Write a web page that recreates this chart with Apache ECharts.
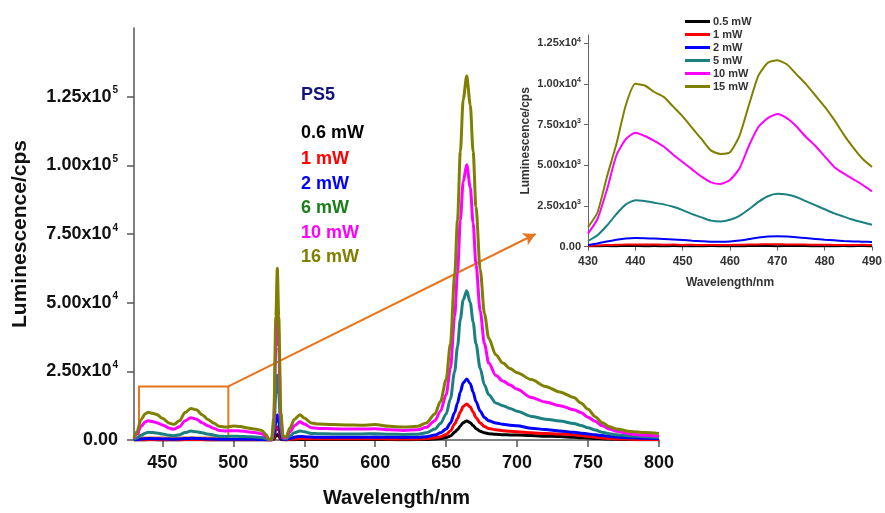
<!DOCTYPE html>
<html>
<head>
<meta charset="utf-8">
<script src="https://cdn.jsdelivr.net/npm/echarts@6/dist/echarts.min.js"></script>
<style>
  html, body { margin: 0; padding: 0; background: #fff; }
  #chart { width: 885px; height: 513px; }
</style>
</head>
<body>
<div id="chart"></div>
<script>
// ---- Full spectra (PS5), wavelength in nm, luminescence in cps ----
const wavelengths = [
  430, 432, 435, 438, 440, 443, 446, 450, 455, 458,
  462, 466, 470, 474, 478, 482, 486, 490, 495, 500,
  505, 510, 515, 520, 523, 525, 527, 528.5, 530, 531,
  532, 533.5, 535, 537, 540, 543, 547, 550, 555, 560,
  570, 580, 590, 600, 610, 620, 630, 636, 642, 646,
  650, 653, 656, 658, 660, 662, 664.5, 667, 669, 671,
  674, 677, 680, 685, 690, 695, 700, 710, 720, 730,
  740, 745, 750, 755, 760, 765, 770, 780, 790, 800
];
const lum16mW = [
  800, 3000, 7500, 9600, 10100, 9700, 9300, 7900, 6100, 5700,
  7000, 10000, 11500, 11000, 9200, 7500, 6200, 5000, 4700, 5100,
  4900, 4400, 4000, 3500, 2000, 300, 200, 8000, 45000, 62500,
  45000, 10000, 1500, 1000, 4500, 7500, 9200, 8000, 6200, 5800,
  5600, 5500, 5400, 5600, 5000, 4700, 5000, 6200, 9500, 14000,
  22000, 35000, 60000, 80000, 105000, 124000, 132500, 122000, 105000, 85000,
  62000, 46000, 37000, 31000, 28000, 26000, 24500, 22000, 19500, 17500,
  15500, 13500, 11200, 8500, 6300, 4800, 4000, 3100, 2700, 2400
];
const lum10mW = [
  600, 2200, 5000, 6600, 7000, 6700, 6300, 5500, 4300, 3900,
  4800, 7000, 8100, 7600, 6300, 5200, 4300, 3500, 3300, 3400,
  3300, 3000, 2700, 2300, 1300, 200, 150, 6000, 34000, 47000,
  34000, 7500, 1000, 700, 3000, 5200, 6600, 5800, 4500, 4200,
  4100, 4000, 4000, 4100, 3700, 3500, 3700, 4600, 7000, 10500,
  16500, 26000, 45000, 61000, 80000, 94000, 100200, 92000, 79000, 64000,
  47000, 35000, 28000, 23500, 21500, 20000, 18500, 15500, 13800, 12500,
  11000, 10000, 8300, 6800, 5200, 4000, 3200, 2200, 1700, 1400
];
const lum6mW = [
  200, 700, 1700, 2500, 2800, 2750, 2550, 2200, 1700, 1550,
  1900, 2700, 3250, 3000, 2600, 2150, 1800, 1400, 1300, 1350,
  1300, 1200, 1100, 900, 500, 100, 100, 3000, 17000, 23600,
  17000, 3800, 600, 400, 1500, 2600, 3300, 3000, 2400, 2300,
  2200, 2200, 2200, 2300, 2100, 2000, 2100, 2600, 4000, 6000,
  9500, 15000, 25000, 34000, 44000, 51000, 54300, 50000, 43000, 35000,
  26000, 20000, 16500, 13500, 12500, 11500, 10500, 8600, 7600, 6900,
  6000, 5300, 4500, 3600, 2800, 2300, 1900, 1500, 1200, 950
];
const lum2mW = [
  80, 200, 350, 480, 520, 500, 460, 400, 330, 300,
  360, 520, 630, 580, 480, 400, 340, 280, 270, 280,
  270, 250, 230, 200, 120, 50, 50, 1200, 6500, 9100,
  6500, 1500, 300, 200, 600, 1000, 1300, 1200, 1050, 1000,
  1000, 1000, 1000, 1050, 1000, 950, 1000, 1200, 1800, 2600,
  4000, 6200, 10000, 13500, 17500, 20800, 22200, 20500, 17500, 14000,
  10500, 8200, 7000, 6200, 5700, 5400, 5200, 4300, 3800, 3300,
  2800, 2500, 2200, 1900, 1600, 1300, 1100, 800, 650, 550
];
const lum1mW = [
  40, 80, 110, 130, 140, 140, 135, 130, 120, 115,
  125, 145, 160, 150, 140, 130, 120, 110, 110, 110,
  105, 100, 90, 80, 50, 20, 20, 600, 3400, 4800,
  3400, 800, 150, 100, 250, 400, 550, 500, 450, 420,
  420, 420, 420, 420, 400, 380, 400, 500, 800, 1200,
  2000, 3300, 5800, 7800, 10200, 12200, 13100, 12000, 10200, 8200,
  6200, 4900, 4200, 3700, 3400, 3200, 3000, 2600, 2400, 2200,
  1900, 1600, 1300, 1000, 750, 550, 400, 250, 200, 200
];
const lum06mW = [
  20, 30, 40, 45, 50, 50, 45, 45, 40, 40,
  45, 50, 55, 50, 50, 45, 40, 40, 40, 40,
  40, 35, 35, 30, 20, 10, 10, 250, 1400, 2000,
  1400, 300, 60, 40, 80, 120, 160, 150, 140, 140,
  140, 140, 140, 150, 140, 130, 140, 200, 350, 550,
  900, 1500, 2800, 3800, 5100, 6300, 6950, 6300, 5300, 4200,
  3200, 2600, 2300, 2100, 1950, 1850, 1800, 1600, 1400, 1250,
  1000, 850, 700, 550, 450, 350, 250, 150, 120, 100
];
const mainLabels = ['0.6 mW', '1 mW', '2 mW', '6 mW', '10 mW', '16 mW'];
const mainXTicks = [450, 500, 550, 600, 650, 700, 750, 800];
const mainYTicks = [0, 25000, 50000, 75000, 100000, 125000];

// ---- Zoomed 430–490 nm region ----
const insetWavelengths = [
  430, 432, 434, 436, 438, 440, 442, 444, 446, 448,
  450, 452, 454, 456, 458, 460, 462, 464, 466, 468,
  470, 472, 474, 476, 478, 480, 482, 484, 486, 488, 490
];
const inset15mW = [
  1200, 2100, 4300, 6300, 8700, 10000, 9900, 9500, 9200, 8600,
  8000, 7300, 6600, 5900, 5700, 5800, 6800, 8700, 10500, 11300,
  11450, 11200, 10600, 10000, 9300, 8600, 7800, 6900, 6100, 5400, 4900
];
const inset10mW = [
  800, 1700, 3500, 5600, 6600, 7000, 6800, 6500, 6150, 5650,
  5200, 4750, 4300, 3950, 3850, 4100, 4800, 6200, 7350, 7900,
  8150, 7900, 7400, 6750, 6200, 5550, 4900, 4500, 4150, 3800, 3400
];
const inset5mW = [
  350, 700, 1300, 2000, 2600, 2850, 2800, 2700, 2600, 2450,
  2250, 2000, 1800, 1600, 1550, 1650, 1900, 2300, 2750, 3100,
  3250, 3200, 3050, 2800, 2550, 2300, 2050, 1850, 1650, 1500, 1350
];
const inset2mW = [
  100, 200, 320, 430, 510, 530, 520, 500, 470, 440,
  410, 370, 340, 310, 300, 320, 380, 470, 560, 620,
  640, 620, 580, 530, 480, 430, 390, 350, 320, 310, 290
];
const inset1mW = [
  40, 70, 100, 120, 130, 140, 130, 140, 120, 130,
  110, 120, 100, 110, 100, 110, 120, 130, 140, 150,
  150, 140, 140, 130, 120, 120, 110, 110, 100, 120, 100
];
const inset05mW = [
  20, 30, 40, 30, 50, 40, 30, 40, 30, 40,
  30, 20, 30, 40, 30, 20, 30, 40, 50, 40,
  30, 40, 50, 40, 30, 20, 30, 40, 30, 50, 30
];
const insetLabels = ['0.5 mW', '1 mW', '2 mW', '5 mW', '10 mW', '15 mW'];
const insetYTicks = [0, 2500, 5000, 7500, 10000, 12500];

// ---- styling ----
const FONT = '"Liberation Sans", Arial, sans-serif';
const colors = ['#000000', '#ff0000', '#0000ff', '#1a8080', '#ff00ff', '#808000'];
const labelColors = ['#000000', '#ff0000', '#0000ff', '#1a7f1a', '#ff00ff', '#808000'];
const ORANGE = '#e8751e';

const pair = (xs, ys) => xs.map((x, i) => [x, ys[i]]);
const mainSets = [lum06mW, lum1mW, lum2mW, lum6mW, lum10mW, lum16mW];
const insetSets = [inset05mW, inset1mW, inset2mW, inset5mW, inset10mW, inset15mW];

function sciFormatter(bigExp) {
  return function (v) {
    if (v === 0) return '{m|0.00}';
    const big = Math.pow(10, bigExp);
    const e = v >= big ? bigExp : bigExp - 1;
    return '{m|' + (v / Math.pow(10, e)).toFixed(2) + 'x10}{e|' + e + '}';
  };
}

const chart = echarts.init(document.getElementById('chart'), null, { renderer: 'canvas' });

const series = [];
mainSets.forEach((d, i) => {
  series.push({
    name: 'PS5 ' + mainLabels[i],
    type: 'line',
    xAxisIndex: 0, yAxisIndex: 0,
    data: pair(wavelengths, d),
    showSymbol: false,
    smooth: 0.3,
    smoothMonotone: 'x',
    lineStyle: { color: colors[i], width: 3 },
    itemStyle: { color: colors[i] },
    z: 3 + i,
    silent: true
  });
});
insetSets.forEach((d, i) => {
  series.push({
    name: insetLabels[i],
    type: 'line',
    xAxisIndex: 1, yAxisIndex: 1,
    data: pair(insetWavelengths, d),
    showSymbol: false,
    smooth: 0.2,
    lineStyle: { color: colors[i], width: 2 },
    itemStyle: { color: colors[i] },
    z: 3 + i,
    silent: true
  });
});
// zoom box over 430-490 nm and the pointer towards the enlarged view
series.push({
  name: 'zoom-box',
  type: 'line',
  xAxisIndex: 0, yAxisIndex: 0,
  data: [],
  z: 2,
  silent: true,
  markArea: {
    silent: true,
    itemStyle: { color: 'rgba(0,0,0,0)', borderColor: ORANGE, borderWidth: 2 },
    label: { show: false },
    data: [[{ coord: [433.5, 19500] }, { coord: [496.5, 900] }]]
  },
  markLine: {
    silent: true,
    symbol: ['none', 'arrow'],
    symbolSize: [10, 12],
    lineStyle: { color: ORANGE, width: 2, type: 'solid' },
    label: { show: false },
    data: [[{ coord: [496.5, 19500] }, { coord: [713, 75000] }]]
  }
});

const option = {
  animation: false,
  backgroundColor: '#ffffff',
  textStyle: { fontFamily: FONT },
  grid: [
    { left: 134, width: 525, top: 28, height: 415.2 },
    { left: 588, width: 289, top: 35, height: 211.7 }
  ],
  xAxis: [
    {
      type: 'value', gridIndex: 0, min: 430, max: 800,
      name: 'Wavelength/nm', nameLocation: 'middle', nameGap: 48,
      nameTextStyle: { fontSize: 20, fontWeight: 'bold', color: '#111', fontFamily: FONT },
      axisLine: { onZero: false, lineStyle: { color: '#555', width: 1.5 } },
      axisTick: { show: true, length: 7, customValues: mainXTicks, lineStyle: { color: '#555', width: 1.5 } },
      axisLabel: { customValues: mainXTicks, margin: 14, fontSize: 18, fontWeight: 'bold', color: '#111', fontFamily: FONT },
      splitLine: { show: false }
    },
    {
      type: 'value', gridIndex: 1, min: 430, max: 490, interval: 10,
      name: 'Wavelength/nm', nameLocation: 'middle', nameGap: 30,
      nameTextStyle: { fontSize: 12, fontWeight: 'bold', color: '#333', fontFamily: FONT },
      axisLine: { onZero: false, lineStyle: { color: '#666', width: 1 } },
      axisTick: { show: true, length: 4, lineStyle: { color: '#666' } },
      axisLabel: { margin: 9, fontSize: 12, fontWeight: 'bold', color: '#333', fontFamily: FONT },
      splitLine: { show: false }
    }
  ],
  yAxis: [
    {
      type: 'value', gridIndex: 0, min: 0, max: 150000, interval: 25000,
      name: 'Luminescence/cps', nameLocation: 'middle', nameGap: 103,
      nameTextStyle: { fontSize: 21, fontWeight: 'bold', color: '#111', fontFamily: FONT },
      axisLine: { show: true, lineStyle: { color: '#555', width: 1.5 } },
      axisTick: { show: true, length: 7, customValues: mainYTicks, lineStyle: { color: '#555', width: 1.5 } },
      axisLabel: {
        margin: 16,
        customValues: mainYTicks,
        formatter: sciFormatter(5),
        rich: {
          m: { fontSize: 18, fontWeight: 'bold', color: '#111', fontFamily: FONT },
          e: { fontSize: 10, fontWeight: 'bold', color: '#111', fontFamily: FONT, padding: [0, 0, 12, 1] }
        }
      },
      splitLine: { show: false }
    },
    {
      type: 'value', gridIndex: 1, min: 0, max: 13000, interval: 2500,
      name: 'Luminescence/cps', nameLocation: 'middle', nameGap: 56,
      nameTextStyle: { fontSize: 12, fontWeight: 'bold', color: '#333', fontFamily: FONT },
      axisLine: { show: true, lineStyle: { color: '#666', width: 1 } },
      axisTick: { show: true, length: 4, customValues: insetYTicks, lineStyle: { color: '#666' } },
      axisLabel: {
        margin: 7,
        customValues: insetYTicks,
        formatter: sciFormatter(4),
        rich: {
          m: { fontSize: 11, fontWeight: 'bold', color: '#333', fontFamily: FONT },
          e: { fontSize: 7, fontWeight: 'bold', color: '#333', fontFamily: FONT, padding: [0, 0, 7, 0] }
        }
      },
      splitLine: { show: false }
    }
  ],
  legend: {
    data: insetLabels,
    orient: 'vertical',
    left: 680, top: 11,
    icon: 'rect',
    itemWidth: 25, itemHeight: 3,
    itemGap: 2,
    selectedMode: false,
    textStyle: { fontSize: 11, fontWeight: 'bold', color: '#333', fontFamily: FONT, lineHeight: 11, padding: [0, 0, 0, -2] }
  },
  graphic: [
    { type: 'text', x: 301, y: 95, style: { text: 'PS5', fill: '#141478', font: 'bold 18px ' + FONT, verticalAlign: 'middle' } }
  ].concat(mainLabels.map((t, i) => ({
    type: 'text', x: 301, y: [133, 159, 184, 208, 233, 257][i],
    style: { text: t, fill: labelColors[i], font: 'bold 18px ' + FONT, verticalAlign: 'middle' }
  }))),
  series: series
};

chart.setOption(option);
</script>
</body>
</html>
